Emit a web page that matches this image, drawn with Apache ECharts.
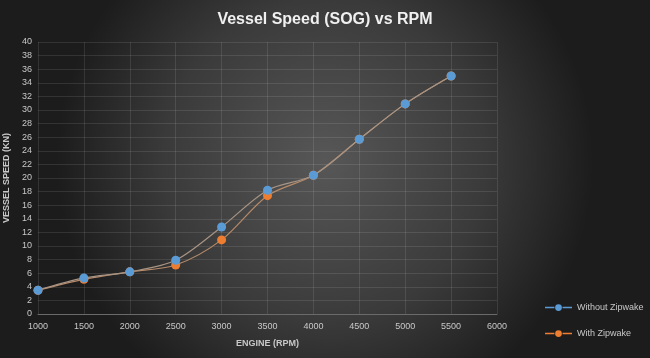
<!DOCTYPE html>
<html><head><meta charset="utf-8">
<script src="https://cdn.jsdelivr.net/npm/echarts@6/dist/echarts.min.js"></script>
<style>html,body{margin:0;padding:0;background:#2a2a2a}#c{width:650px;height:358px}</style>
</head><body><div id="c"></div>
<script>
const rpm = [1000, 1500, 2000, 2500, 3000, 3500, 4000, 4500, 5000, 5500];
const withoutZipwake = [3.5, 5.3, 6.2, 7.9, 12.8, 18.2, 20.4, 25.7, 30.9, 35.0];
const withZipwake = [3.5, 5.1, 6.2, 7.2, 10.9, 17.4, 20.4, 25.7, 30.9, 35.0];
const seriesNames = ['Without Zipwake', 'With Zipwake'];

const legendIcon = 'path://M0,8.8L14,8.8L14,11.2L0,11.2Z M15,10A5,5 0 1,1 25,10A5,5 0 1,1 15,10Z M26,8.8L40,8.8L40,11.2L26,11.2Z';
const chart = echarts.init(document.getElementById('c'));
const lbl = {color: '#c8c8c8', fontSize: 9, fontFamily: 'Liberation Sans'};
chart.setOption({
  backgroundColor: {
    type: 'radial', x: 0.5, y: 0.45, r: 0.75,
    colorStops: [{offset: 0, color: '#575757'}, {offset: 0.6, color: '#3a3a3a'}, {offset: 1, color: '#1c1c1c'}]
  },
  title: {
    text: 'Vessel Speed (SOG) vs RPM', left: 'center', top: 7,
    textStyle: {color: '#f0f0f0', fontSize: 16, fontWeight: 'bold', fontFamily: 'Liberation Sans'}
  },
  legend: {
    orient: 'vertical', left: 540, top: 298, itemGap: 17, itemWidth: 27, itemHeight: 7,
    textStyle: {color: '#c8c8c8', fontSize: 9, fontFamily: 'Liberation Sans'},
    data: [
      {name: seriesNames[0], icon: legendIcon, itemStyle: {color: '#5b9bd5'}},
      {name: seriesNames[1], icon: legendIcon, itemStyle: {color: '#ed7d31'}}
    ]
  },
  grid: {left: 38, right: 153, top: 42, bottom: 44, outerBoundsMode: 'none'},
  xAxis: {
    type: 'value', min: 1000, max: 6000, interval: 500,
    name: 'ENGINE (RPM)', nameLocation: 'middle', nameGap: 25,
    nameTextStyle: {color: '#c8c8c8', fontSize: 9, fontWeight: 'bold', fontFamily: 'Liberation Sans'},
    axisLine: {show: true, lineStyle: {color: '#6a6a6a'}}, axisTick: {show: false},
    axisLabel: Object.assign({margin: 8, formatter: v => String(v)}, lbl),
    splitLine: {show: true, lineStyle: {color: 'rgba(255,255,255,0.1)', width: 1}}
  },
  yAxis: {
    type: 'value', min: 0, max: 40, interval: 2,
    name: 'VESSEL SPEED (KN)', nameLocation: 'middle', nameGap: 21, nameRotate: 90,
    nameTextStyle: {color: '#c8c8c8', fontSize: 9, fontWeight: 'bold', fontFamily: 'Liberation Sans'},
    axisLine: {show: false}, axisTick: {show: false},
    axisLabel: Object.assign({margin: 6}, lbl),
    splitLine: {show: true, lineStyle: {color: 'rgba(255,255,255,0.1)', width: 1}}
  },
  series: [
    {
      name: seriesNames[0], type: 'line', smooth: 0.3,
      data: rpm.map((x, i) => [x, withoutZipwake[i]]),
      symbol: 'circle', symbolSize: 9,
      itemStyle: {color: '#5b9bd5'}, lineStyle: {color: '#a89484', width: 1.2}, z: 3
    },
    {
      name: seriesNames[1], type: 'line', smooth: 0.3,
      data: rpm.map((x, i) => [x, withZipwake[i]]),
      symbol: 'circle', symbolSize: 9,
      itemStyle: {color: '#ed7d31'}, lineStyle: {color: '#b58a6a', width: 1.2}, z: 2
    }
  ]
});
</script></body></html>
